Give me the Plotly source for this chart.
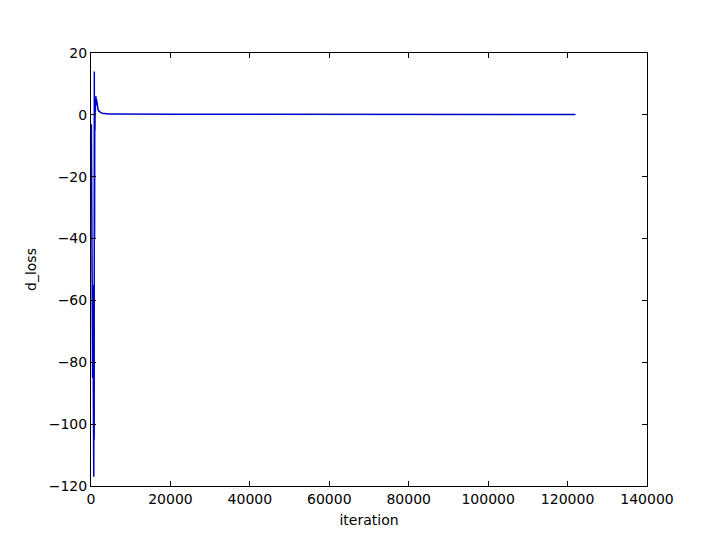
import plotly.graph_objects as go

# iteration values
iteration = [100, 150, 200, 250, 300, 350, 400, 450, 500, 550, 600, 650, 700,
             750, 800, 830, 860, 900, 950, 1000, 1050, 1100, 1150, 1200, 1250,
             1300, 1400, 1500, 1600, 1700, 1800, 2000, 2200, 2500, 2800, 3200,
             3600, 4000, 4500, 5000, 6000, 7000, 8000, 10000, 14000, 18000,
             22000, 26000, 30000, 34000, 38000, 40000, 41000, 42000, 43000,
             44000, 45000, 46000, 47000, 48000, 52000, 56000, 60000, 61000,
             62000, 63000, 66000, 72000, 80000, 90000, 100000, 110000, 122000]

# d_loss values
d_loss = [-3, -20, -45, -25, -60, -40, -85, -55, -100, -70, -115, -90, -117,
          -60, -105, 14, -80, -40, 2, -5, 6, 1, 5.5, 3, 6,
          4, 5, 3.5, 2.8, 2.2, 1.6, 1.2, 0.9, 0.7, 0.55, 0.45,
          0.4, 0.35, 0.3, 0.3, 0.28, 0.25, 0.25, 0.22, 0.2, 0.2,
          0.2, 0.18, 0.18, 0.17, 0.17, 0.22, 0.1, 0.25, 0.1, 0.22,
          0.12, 0.22, 0.12, 0.18, 0.15, 0.15, 0.15, 0.2, 0.08, 0.15, 0.1,
          0.1, 0.1, 0.1, 0.1, 0.1, 0.1]

x_ticks = [0, 20000, 40000, 60000, 80000, 100000, 120000, 140000]
y_ticks = [-120, -100, -80, -60, -40, -20, 0, 20]

fig = go.Figure()
fig.add_trace(go.Scatter(x=iteration, y=d_loss, mode="lines",
                         line=dict(color="#0000cc", width=1.5),
                         showlegend=False))

axis_common = dict(showline=True, linecolor="black", linewidth=1, mirror="ticks",
                   ticks="inside", ticklen=5, tickcolor="black", tickwidth=1,
                   showgrid=False, zeroline=False,
                   tickfont=dict(family="DejaVu Sans", size=14, color="black"))

fig.update_layout(
    width=720, height=540,
    paper_bgcolor="white", plot_bgcolor="white",
    margin=dict(l=83, r=81, t=45, b=62),
    font=dict(family="DejaVu Sans", size=14, color="black"),
    xaxis=dict(range=[0, 140000], tickvals=x_ticks,
               ticktext=[str(v) for v in x_ticks],
               title=dict(text="iteration", standoff=9,
                          font=dict(family="DejaVu Sans", size=14)),
               **axis_common),
    yaxis=dict(range=[-120, 20], tickvals=y_ticks,
               ticktext=[str(v).replace("-", "\u2212") for v in y_ticks],
               title=dict(text="d_loss", standoff=8,
                          font=dict(family="DejaVu Sans", size=14)),
               **axis_common),
)

fig.write_html("out.html")
